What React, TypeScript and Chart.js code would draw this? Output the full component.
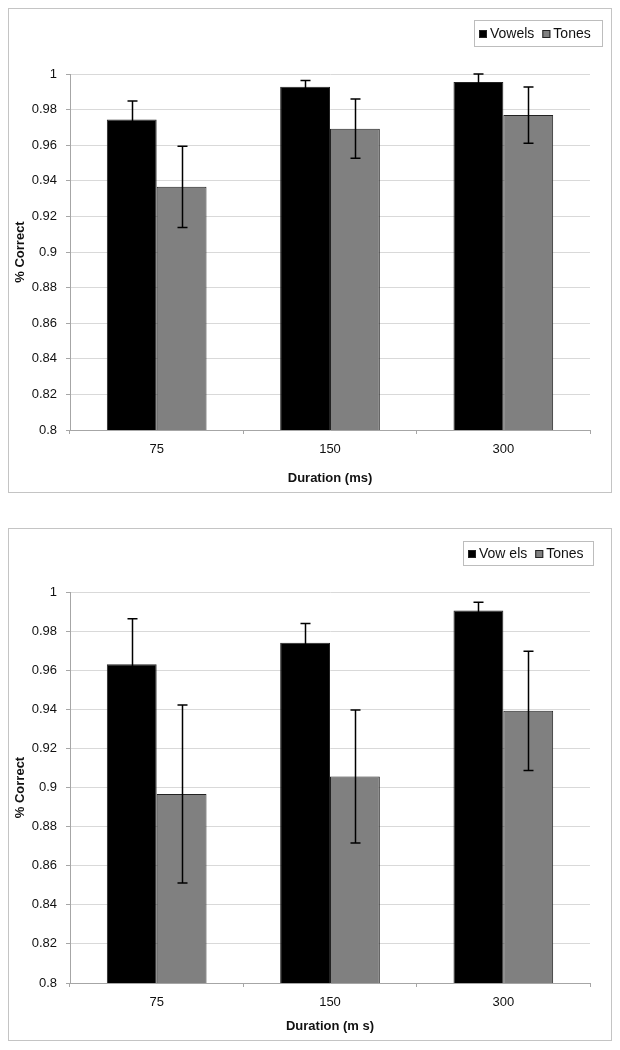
import React, { useEffect, useRef } from "react";
import { Chart, registerables } from "chart.js";
Chart.register(...registerables);

const categories = ["75", "150", "300"];

const legendNamesA = ["Vowels", "Tones"];
const vowelsA = [0.9745, 0.9928, 0.9955];
const vowelsErrA = [0.0103, 0.0036, 0.0045];
const tonesA = [0.9366, 0.9693, 0.9769];
const tonesErrA = [0.0228, 0.0166, 0.0158];

const legendNamesB = ["Vow els", "Tones"];
const vowelsB = [0.9631, 0.974, 0.9906];
const vowelsErrB = [0.0232, 0.0099, 0.0041];
const tonesB = [0.8967, 0.9056, 0.9392];
const tonesErrB = [0.0455, 0.034, 0.0305];

const xTitleA = "Duration (ms)";
const xTitleB = "Duration (m s)";
const yTitle = "% Correct";

const FONT = "'Liberation Sans', Arial, sans-serif";

const errorBarPlugin = {
  id: "errorBars",
  afterDatasetsDraw(chart: any) {
    const ctx = chart.ctx;
    const y = chart.scales.y;
    chart.data.datasets.forEach((ds: any, di: number) => {
      const meta = chart.getDatasetMeta(di);
      meta.data.forEach((bar: any, i: number) => {
        const v = ds.data[i];
        const e = ds.errors[i];
        const x = Math.round(bar.x) + 0.5;
        const yT = y.getPixelForValue(v + e);
        const yB = y.getPixelForValue(v - e);
        ctx.save();
        ctx.strokeStyle = "#000";
        ctx.lineWidth = 1.5;
        ctx.beginPath();
        ctx.moveTo(x, yT);
        ctx.lineTo(x, yB);
        ctx.moveTo(x - 5, yT);
        ctx.lineTo(x + 5, yT);
        ctx.moveTo(x - 5, yB);
        ctx.lineTo(x + 5, yB);
        ctx.stroke();
        ctx.restore();
      });
    });
  },
};

const boxLegendPlugin = {
  id: "boxLegend",
  afterDraw(chart: any, _args: any, opts: any) {
    const ctx = chart.ctx;
    const { x, y, w, h } = opts;
    ctx.save();
    ctx.strokeStyle = "#bdbdbd";
    ctx.lineWidth = 1;
    ctx.strokeRect(x + 0.5, y + 0.5, w, h);
    ctx.font = `14px ${FONT}`;
    ctx.textBaseline = "middle";
    ctx.fillStyle = "#111";
    let cx = x + 5;
    const cy = y + h / 2 + 1;
    chart.data.datasets.forEach((ds: any) => {
      ctx.fillStyle = ds.backgroundColor;
      ctx.fillRect(cx, cy - 4, 8, 8);
      ctx.strokeStyle = "#222";
      ctx.strokeRect(cx + 0.5, cy - 3.5, 7, 7);
      cx += 11;
      ctx.fillStyle = "#111";
      ctx.fillText(ds.label, cx, cy);
      cx += ctx.measureText(ds.label).width + 8;
    });
    ctx.restore();
  },
};

type Props = {
  names: string[];
  vowels: number[];
  vowelsErr: number[];
  tones: number[];
  tonesErr: number[];
  xTitle: string;
  top: number;
  height: number;
  padTop: number;
  xAxisH: number;
  xTitlePad: number;
  legend: { x: number; y: number; w: number; h: number };
};

const PANEL_W = 604;

function BarPanel(p: Props) {
  const ref = useRef<HTMLCanvasElement>(null);
  useEffect(() => {
    if (!ref.current) return;
    const chart = new Chart(ref.current, {
      type: "bar",
      data: {
        labels: categories,
        datasets: [
          {
            label: p.names[0],
            data: p.vowels,
            errors: p.vowelsErr,
            backgroundColor: "#000000",
            borderColor: "#222222",
            borderWidth: 1,
          } as any,
          {
            label: p.names[1],
            data: p.tones,
            errors: p.tonesErr,
            backgroundColor: "#808080",
            borderColor: "#222222",
            borderWidth: 1,
          } as any,
        ],
      },
      options: {
        animation: false,
        responsive: false,
        maintainAspectRatio: false,
        layout: { padding: { left: 0, right: 21, top: p.padTop, bottom: 0 } },
        datasets: { bar: { categoryPercentage: 0.575, barPercentage: 1 } },
        plugins: {
          legend: { display: false },
          tooltip: { enabled: false },
          boxLegend: p.legend,
        } as any,
        scales: {
          x: {
            grid: {
              display: true,
              drawOnChartArea: false,
              drawTicks: true,
              tickLength: 4,
              color: "#a6a6a6",
              offset: true,
            },
            border: { color: "#a6a6a6", width: 1 },
            ticks: {
              color: "#111",
              font: { family: FONT, size: 13 },
              padding: 8,
            },
            title: {
              display: true,
              text: p.xTitle,
              color: "#111",
              font: { family: FONT, size: 13, weight: "bold" },
              padding: { top: 0, bottom: p.xTitlePad },
            },
            afterFit: (s: any) => {
              s.height = p.xAxisH;
            },
          },
          y: {
            min: 0.8,
            max: 1,
            ticks: {
              stepSize: 0.02,
              color: "#111",
              font: { family: FONT, size: 13 },
              padding: 9,
              callback: (v: any) => String(Number(Number(v).toFixed(2))),
            },
            grid: {
              color: "#d9d9d9",
              tickLength: 4,
              drawTicks: true,
              tickColor: "#a6a6a6",
            },
            border: { color: "#a6a6a6", width: 1 },
            title: {
              display: true,
              text: yTitle,
              color: "#111",
              font: { family: FONT, size: 13, weight: "bold" },
              padding: { top: 4, bottom: 0 },
            },
            afterFit: (s: any) => {
              s.width = 61;
            },
          },
        },
      },
      plugins: [errorBarPlugin, boxLegendPlugin],
    });
    return () => chart.destroy();
  }, []);
  const innerH = p.height - 2;
  const innerW = PANEL_W - 2;
  return (
    <div
      style={{
        position: "absolute",
        left: 0,
        top: p.top,
        width: PANEL_W,
        height: p.height,
        border: "1px solid #c4c4c4",
        boxSizing: "border-box",
        background: "#fff",
      }}
    >
      <canvas
        ref={ref}
        width={innerW}
        height={innerH}
        style={{ position: "absolute", left: 0, top: 0, width: innerW, height: innerH }}
      />
    </div>
  );
}

export default function App() {
  return (
    <div style={{ position: "relative", width: PANEL_W, height: 1033 }}>
      <BarPanel
        names={legendNamesA}
        vowels={vowelsA}
        vowelsErr={vowelsErrA}
        tones={tonesA}
        tonesErr={tonesErrA}
        xTitle={xTitleA}
        top={0}
        height={485}
        padTop={65}
        xAxisH={62}
        xTitlePad={6}
        legend={{ x: 465, y: 11, w: 128, h: 26 }}
      />
      <BarPanel
        names={legendNamesB}
        vowels={vowelsB}
        vowelsErr={vowelsErrB}
        tones={tonesB}
        tonesErr={tonesErrB}
        xTitle={xTitleB}
        top={520}
        height={513}
        padTop={63}
        xAxisH={57}
        xTitlePad={6}
        legend={{ x: 454, y: 12, w: 130, h: 24 }}
      />
    </div>
  );
}
